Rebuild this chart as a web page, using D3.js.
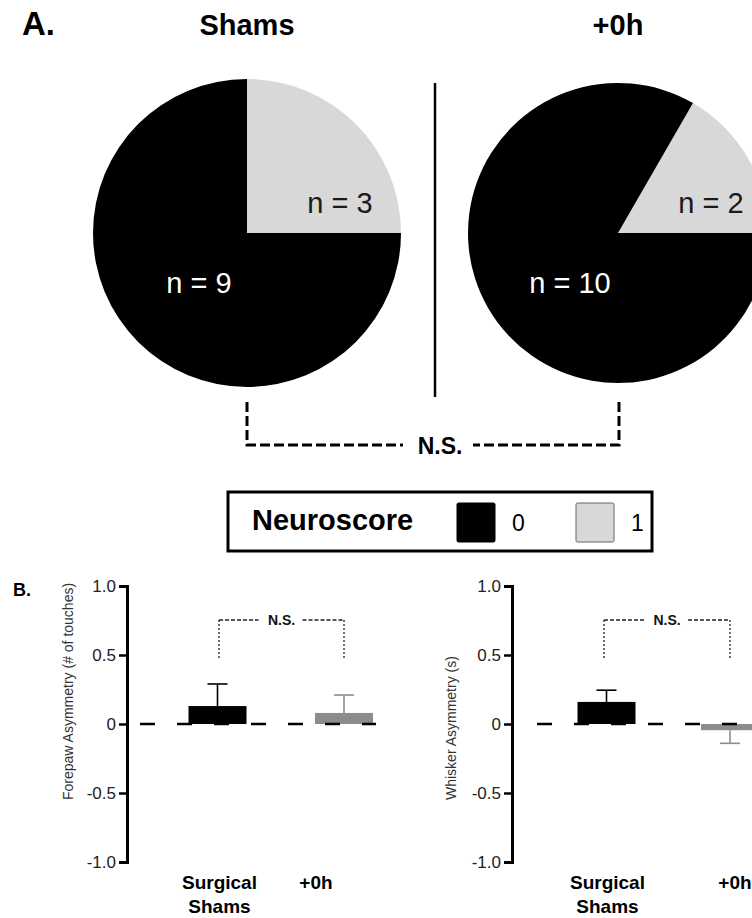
<!DOCTYPE html>
<html>
<head>
<meta charset="utf-8">
<script src="https://cdn.jsdelivr.net/npm/d3@7"></script>
<style>
  html, body { margin: 0; padding: 0; background: #fff; overflow: hidden; }
  svg { display: block; font-family: "Liberation Sans", Arial, Helvetica, sans-serif; }
</style>
</head>
<body>
<script>
// ---------- DATA ----------
const pieGroups = ["Shams", "+0h"];
const neuroscoreLevels = ["0", "1"];
const countsScore0 = [9, 10];   // neuroscore 0 (black)
const countsScore1 = [3, 2];    // neuroscore 1 (light gray)

const barCategories = ["Surgical Shams", "+0h"];
const forepawMeans = [0.13, 0.08];
const forepawSEM = [0.16, 0.13];
const whiskerMeans = [0.16, -0.045];
const whiskerSEM = [0.085, 0.095];

const yTickValues = [-1, -0.5, 0, 0.5, 1];
const yTickLabels = ["-1.0", "-0.5", "0", "0.5", "1.0"];

// ---------- SETUP ----------
const W = 752, H = 918;
const svg = d3.select("body").append("svg").attr("width", W).attr("height", H);
svg.append("rect").attr("width", W).attr("height", H).attr("fill", "#fff");

const colScore = ["#000000", "#d8d8d8"];

// ---------- PANEL A ----------
svg.append("text").attr("x", 22).attr("y", 35).attr("font-size", 33).attr("font-weight", "bold").text("A.");

const pieCenters = [{x: 247, y: 233, r: 154}, {x: 618, y: 233, r: 150}];

pieGroups.forEach((g, i) => {
  const c = pieCenters[i];
  const vals = [countsScore1[i], countsScore0[i]]; // gray first, then black
  const total = d3.sum(vals);
  const start = Math.PI / 2 - 2 * Math.PI * vals[0] / total;
  const pie = d3.pie().sort(null).value(d => d.v).startAngle(start).endAngle(start + 2 * Math.PI);
  const arcs = pie([{v: vals[0], s: 1}, {v: vals[1], s: 0}]);
  const arc = d3.arc().innerRadius(0).outerRadius(c.r);
  const gp = svg.append("g").attr("transform", `translate(${c.x},${c.y})`);
  gp.selectAll("path").data(arcs).join("path")
    .attr("d", arc)
    .attr("fill", d => colScore[d.data.s]);
  gp.append("text").attr("x", -48).attr("y", 60).attr("text-anchor", "middle")
    .attr("font-size", 29).attr("fill", "#fff").text("n = " + countsScore0[i]);
  gp.append("text").attr("x", 93).attr("y", -20).attr("text-anchor", "middle")
    .attr("font-size", 29).attr("fill", "#1a1a1a").text("n = " + countsScore1[i]);
  svg.append("text").attr("x", c.x).attr("y", 35).attr("text-anchor", "middle")
    .attr("font-size", 29).attr("font-weight", "bold").text(g);
});

// divider
svg.append("line").attr("x1", 435).attr("x2", 435).attr("y1", 83).attr("y2", 397)
  .attr("stroke", "#000").attr("stroke-width", 2.5);

// N.S. bracket
const br = svg.append("g").attr("fill", "none").attr("stroke", "#000").attr("stroke-width", 3).attr("stroke-dasharray", "10,4");
br.append("path").attr("d", "M247,402 V445 H403");
br.append("path").attr("d", "M619,402 V445 H473");
svg.append("text").attr("x", 440).attr("y", 454).attr("text-anchor", "middle")
  .attr("font-size", 23).attr("font-weight", "bold").text("N.S.");

// Legend
svg.append("rect").attr("x", 228).attr("y", 492).attr("width", 424).attr("height", 59)
  .attr("fill", "#fff").attr("stroke", "#000").attr("stroke-width", 3);
svg.append("text").attr("x", 252).attr("y", 530).attr("font-size", 29).attr("font-weight", "bold").text("Neuroscore");
const legX = [457, 576];
neuroscoreLevels.forEach((lv, i) => {
  svg.append("rect").attr("x", legX[i]).attr("y", 503).attr("width", 38).attr("height", 39).attr("rx", 1.5)
    .attr("fill", colScore[i]).attr("stroke", i === 0 ? "#000" : "#666").attr("stroke-width", 1);
  svg.append("text").attr("x", legX[i] + 55).attr("y", 531).attr("font-size", 23).text(lv);
});

// ---------- PANEL B ----------
svg.append("text").attr("x", 13).attr("y", 596).attr("font-size", 18).attr("font-weight", "bold").text("B.");

const y = d3.scaleLinear().domain([-1, 1]).range([862, 586]);
const barColors = ["#000000", "#8c8c8c"];

function barChart(cfg) {
  const g = svg.append("g");
  const x = d3.scalePoint().domain(barCategories).range(cfg.xRange);
  const bw = 58;

  const ax = d3.axisLeft(y).tickValues(yTickValues)
    .tickFormat((d, i) => yTickLabels[i]).tickSizeOuter(0).tickSize(8).tickPadding(3);
  const axg = g.append("g").attr("transform", `translate(${cfg.axisX},0)`).call(ax);
  axg.select(".domain").attr("stroke", "#000").attr("stroke-width", 3);
  axg.selectAll(".tick line").attr("stroke", "#000").attr("stroke-width", 2.5);
  axg.selectAll(".tick text").attr("font-size", 17).attr("fill", "#222")
    .attr("font-family", "Liberation Sans, Arial, sans-serif");

  g.append("text").attr("transform", `translate(${cfg.labelX},800) rotate(-90)`)
    .attr("font-size", 14).attr("fill", "#333").text(cfg.yLabel);

  barCategories.forEach((c, i) => {
    const m = cfg.means[i], s = cfg.sem[i];
    const cx = x(c);
    g.append("rect").attr("x", cx - bw / 2).attr("width", bw)
      .attr("y", Math.min(y(m), y(0))).attr("height", Math.abs(y(m) - y(0)))
      .attr("fill", barColors[i]);
    const ye = m >= 0 ? y(m + s) : y(m - s);
    g.append("line").attr("x1", cx).attr("x2", cx).attr("y1", y(m)).attr("y2", ye)
      .attr("stroke", barColors[i]).attr("stroke-width", 1.6);
    g.append("line").attr("x1", cx - 10).attr("x2", cx + 10).attr("y1", ye).attr("y2", ye)
      .attr("stroke", barColors[i]).attr("stroke-width", 1.6);
  });

  g.append("line").attr("x1", cfg.zeroX[0]).attr("x2", cfg.zeroX[1]).attr("y1", y(0)).attr("y2", y(0))
    .attr("stroke", "#000").attr("stroke-width", 2.5).attr("stroke-dasharray", "15,22");

  barCategories.forEach((c, i) => {
    const words = c.split(" ");
    const t = g.append("text").attr("text-anchor", "middle").attr("font-size", 19).attr("font-weight", "bold");
    words.forEach((w, k) => {
      t.append("tspan").attr("x", x(c) + cfg.labelOffsets[i]).attr("y", 889 + k * 24).text(w);
    });
  });

  const x0 = x(barCategories[0]) + cfg.brOff[0], x1 = x(barCategories[1]) + cfg.brOff[1];
  const top = 620, bot = 660, mid = (x0 + x1) / 2;
  const bg = g.append("g").attr("fill", "none").attr("stroke", "#222").attr("stroke-width", 1.3);
  bg.append("line").attr("x1", x0).attr("x2", x0).attr("y1", top).attr("y2", bot).attr("stroke-dasharray", "2,2");
  bg.append("line").attr("x1", x1).attr("x2", x1).attr("y1", top).attr("y2", bot).attr("stroke-dasharray", "2,2");
  bg.append("line").attr("x1", x0).attr("x2", mid - 23).attr("y1", top).attr("y2", top).attr("stroke-dasharray", "4,2");
  bg.append("line").attr("x1", mid + 21).attr("x2", x1).attr("y1", top).attr("y2", top).attr("stroke-dasharray", "4,2");
  g.append("text").attr("x", mid).attr("y", 625).attr("text-anchor", "middle")
    .attr("font-size", 14).attr("font-weight", "bold").attr("fill", "#111").text("N.S.");
}

barChart({
  axisX: 127, xRange: [217.5, 344], zeroX: [140, 376], labelX: 73,
  yLabel: "Forepaw Asymmetry (# of touches)",
  means: forepawMeans, sem: forepawSEM,
  labelOffsets: [2, -28], brOff: [1.5, 0]
});
barChart({
  axisX: 512, xRange: [606.5, 730], zeroX: [537, 760], labelX: 456,
  yLabel: "Whisker Asymmetry (s)",
  means: whiskerMeans, sem: whiskerSEM,
  labelOffsets: [1, 5], brOff: [-2.5, 0]
});
</script>
</body>
</html>
